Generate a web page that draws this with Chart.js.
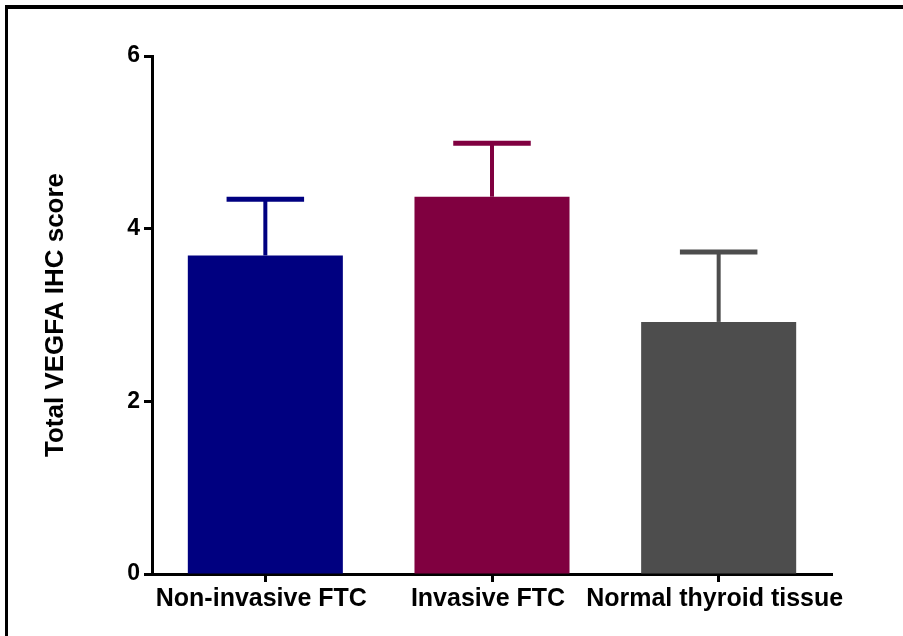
<!DOCTYPE html>
<html>
<head>
<meta charset="utf-8">
<script src="https://cdn.jsdelivr.net/npm/chart.js@4"></script>
<style>
  html, body { margin: 0; padding: 0; background: #fff; }
  #wrap { position: relative; width: 903px; height: 636px; overflow: hidden; }
  #frame { position: absolute; left: 5px; top: 5px; width: 1000px; height: 700px;
           border-top: 4px solid #000; border-left: 3px solid #000; }
  canvas { position: absolute; left: 0; top: 0; }
</style>
</head>
<body>
<div id="wrap">
  <div id="frame"></div>
  <canvas id="chart" width="903" height="636"></canvas>
</div>
<script>
// values
const categories = ['Non-invasive FTC', 'Invasive FTC', 'Normal thyroid tissue'];
const means = [3.69, 4.37, 2.92];
const upperError = [4.34, 4.99, 3.73];
const yTicks = [0, 2, 4, 6];

const barColors = ['#000080', '#800040', '#4d4d4d'];
const FONT = '"Liberation Sans", Arial, sans-serif';

// draws the SEM whiskers (upper only) on top of each bar
const errorBars = {
  id: 'errorBars',
  afterDatasetsDraw(chart) {
    const ctx = chart.ctx;
    const yScale = chart.scales.y;
    const meta = chart.getDatasetMeta(0);
    meta.data.forEach((bar, i) => {
      const top = yScale.getPixelForValue(upperError[i]);
      const half = bar.width / 4;
      ctx.save();
      ctx.strokeStyle = barColors[i];
      ctx.lineWidth = 4;
      ctx.beginPath();
      ctx.moveTo(bar.x, bar.y);
      ctx.lineTo(bar.x, top);
      ctx.stroke();
      ctx.lineWidth = 5;
      ctx.beginPath();
      ctx.moveTo(bar.x - half, top);
      ctx.lineTo(bar.x + half, top);
      ctx.stroke();
      ctx.restore();
    });
  }
};

new Chart(document.getElementById('chart'), {
  type: 'bar',
  data: {
    labels: categories,
    datasets: [{
      data: means,
      backgroundColor: barColors,
      borderWidth: 0,
      barPercentage: 0.684,
      categoryPercentage: 1
    }]
  },
  options: {
    responsive: false,
    animation: false,
    layout: { padding: { top: 56, right: 71, left: 0, bottom: 0 } },
    plugins: { legend: { display: false }, tooltip: { enabled: false } },
    scales: {
      x: {
        offset: true,
        afterFit(scale) { scale.height = 62; },
        grid: {
          offset: false,
          drawOnChartArea: false,
          drawTicks: true,
          tickLength: 8,
          tickWidth: 3,
          color: '#000'
        },
        border: { display: true, color: '#000', width: 3 },
        ticks: {
          color: '#000',
          padding: 2,
          labelOffset: -4,
          maxRotation: 0,
          minRotation: 0,
          autoSkip: false,
          font: { family: FONT, size: 25, weight: 'bold' }
        }
      },
      y: {
        min: 0,
        max: 6,
        afterFit(scale) { scale.width = 152; },
        afterBuildTicks(scale) { scale.ticks = yTicks.map(v => ({ value: v })); },
        grid: {
          drawOnChartArea: false,
          drawTicks: true,
          tickLength: 8,
          tickWidth: 3,
          color: '#000'
        },
        border: { display: true, color: '#000', width: 3 },
        ticks: {
          color: '#000',
          padding: 4,
          font: { family: FONT, size: 23, weight: 'bold' }
        },
        title: {
          display: true,
          text: 'Total VEGFA IHC score',
          color: '#000',
          padding: { top: 40, bottom: 0 },
          font: { family: FONT, size: 26, weight: 'bold' }
        }
      }
    }
  },
  plugins: [errorBars]
});
</script>
</body>
</html>
